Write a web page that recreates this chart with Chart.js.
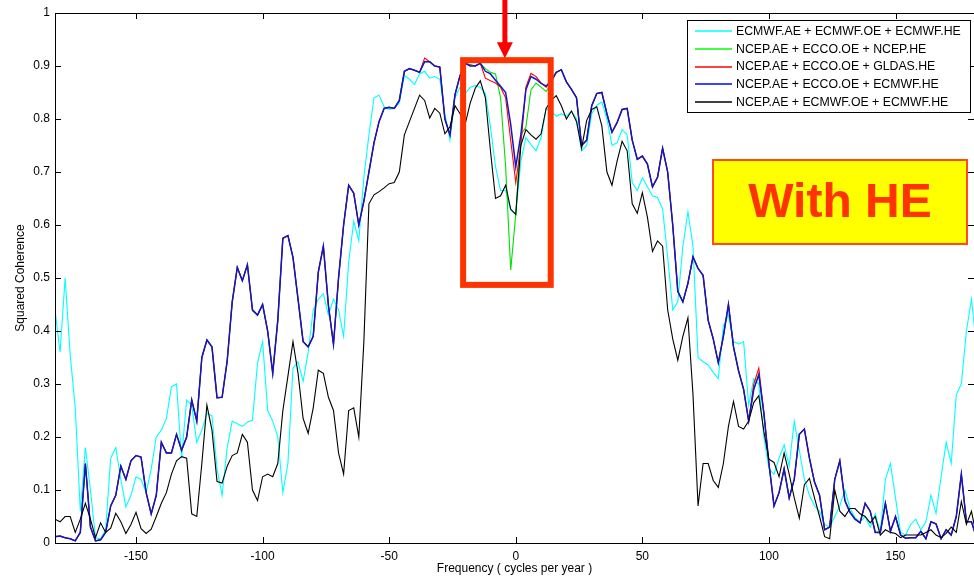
<!DOCTYPE html>
<html>
<head>
<meta charset="utf-8">
<title>Squared Coherence</title>
<script src="https://cdn.jsdelivr.net/npm/chart.js@4.4.1/dist/chart.umd.min.js"></script>
<style>
  html, body { margin: 0; padding: 0; background: #fff; }
  #wrap { width: 974px; height: 577px; }
</style>
</head>
<body>
<div id="wrap"><canvas id="coh" width="974" height="577"></canvas></div>
<script>
// frequency grid, cycles per year (-182 ... 182, step 2)
const freqStart = -182, freqStep = 2, freqCount = 183;
const freq = Array.from({ length: freqCount }, (_, i) => freqStart + i * freqStep);

const seriesLabels = [
  "ECMWF.AE + ECMWF.OE + ECMWF.HE",
  "NCEP.AE + ECCO.OE + NCEP.HE",
  "NCEP.AE + ECCO.OE + GLDAS.HE",
  "NCEP.AE + ECCO.OE + ECMWF.HE",
  "NCEP.AE + ECMWF.OE + ECMWF.HE",
];

// ECMWF.AE + ECMWF.OE + ECMWF.HE
const cohEcmwfAll = [
  0.440, 0.360, 0.500, 0.355, 0.255, 0.060, 0.180, 0.100, 0.010, 0.008,
  0.025, 0.160, 0.180, 0.120, 0.068, 0.090, 0.125, 0.120, 0.095, 0.140,
  0.200, 0.213, 0.235, 0.295, 0.300, 0.160, 0.270, 0.260, 0.190, 0.213,
  0.245, 0.240, 0.140, 0.090, 0.180, 0.230, 0.225, 0.220, 0.228, 0.232,
  0.340, 0.380, 0.250, 0.230, 0.200, 0.095, 0.150, 0.330, 0.342, 0.305,
  0.360, 0.440, 0.460, 0.470, 0.430, 0.460, 0.440, 0.390, 0.530, 0.607,
  0.570, 0.690, 0.770, 0.840, 0.845, 0.823, 0.818, 0.820, 0.830, 0.882,
  0.875, 0.865, 0.885, 0.890, 0.877, 0.880, 0.875, 0.810, 0.760, 0.840,
  0.860, 0.848, 0.860, 0.863, 0.860, 0.848, 0.785, 0.710, 0.665, 0.665,
  0.628, 0.620, 0.720, 0.765, 0.752, 0.740, 0.765, 0.820, 0.815, 0.805,
  0.810, 0.805, 0.815, 0.800, 0.740, 0.750, 0.810, 0.826, 0.832, 0.800,
  0.750, 0.755, 0.780, 0.770, 0.680, 0.665, 0.689, 0.672, 0.655, 0.652,
  0.630, 0.540, 0.440, 0.455, 0.560, 0.625, 0.560, 0.350, 0.342, 0.336,
  0.322, 0.310, 0.410, 0.430, 0.380, 0.375, 0.380, 0.260, 0.310, 0.300,
  0.200, 0.140, 0.130, 0.160, 0.185, 0.145, 0.230, 0.175, 0.120, 0.090,
  0.070, 0.060, 0.035, 0.030, 0.050, 0.070, 0.100, 0.066, 0.048, 0.040,
  0.050, 0.030, 0.055, 0.020, 0.120, 0.150, 0.085, 0.020, 0.015, 0.035,
  0.045, 0.025, 0.040, 0.090, 0.056, 0.125, 0.190, 0.150, 0.280, 0.300,
  0.400, 0.460, 0.370,
];

// NCEP.AE + ECCO.OE + NCEP.HE
const cohNcepHe = [
  0.012, 0.013, 0.010, 0.008, 0.004, 0.020, 0.150, 0.030, 0.004, 0.006,
  0.020, 0.070, 0.090, 0.145, 0.120, 0.155, 0.165, 0.162, 0.095, 0.055,
  0.090, 0.190, 0.170, 0.170, 0.205, 0.175, 0.200, 0.270, 0.230, 0.350,
  0.383, 0.370, 0.274, 0.275, 0.343, 0.455, 0.520, 0.495, 0.525, 0.438,
  0.430, 0.450, 0.400, 0.320, 0.420, 0.575, 0.580, 0.539, 0.460, 0.380,
  0.370, 0.390, 0.511, 0.560, 0.448, 0.375, 0.500, 0.600, 0.675, 0.660,
  0.600, 0.645, 0.700, 0.755, 0.795, 0.820, 0.822, 0.820, 0.835, 0.890,
  0.895, 0.892, 0.888, 0.908, 0.908, 0.900, 0.898, 0.800, 0.770, 0.846,
  0.882, 0.905, 0.903, 0.900, 0.905, 0.895, 0.888, 0.885, 0.840, 0.710,
  0.515, 0.620, 0.770, 0.785, 0.855, 0.868, 0.860, 0.852, 0.868, 0.888,
  0.893, 0.870, 0.856, 0.840, 0.750, 0.760, 0.825, 0.848, 0.850, 0.810,
  0.775, 0.793, 0.818, 0.820, 0.760, 0.724, 0.730, 0.715, 0.672, 0.690,
  0.745, 0.700, 0.600, 0.475, 0.455, 0.490, 0.540, 0.518, 0.505, 0.420,
  0.385, 0.340, 0.390, 0.450, 0.370, 0.325, 0.290, 0.230, 0.290, 0.318,
  0.245, 0.150, 0.070, 0.095, 0.140, 0.085, 0.120, 0.205, 0.215, 0.160,
  0.115, 0.090, 0.025, 0.030, 0.120, 0.155, 0.080, 0.058, 0.045, 0.038,
  0.075, 0.060, 0.020, 0.020, 0.075, 0.022, 0.050, 0.015, 0.009, 0.010,
  0.010, 0.022, 0.008, 0.040, 0.036, 0.008, 0.025, 0.015, 0.050, 0.130,
  0.040, 0.040, 0.010,
];

// NCEP.AE + ECCO.OE + GLDAS.HE
const cohGldasHe = [
  0.012, 0.013, 0.010, 0.008, 0.004, 0.020, 0.150, 0.030, 0.004, 0.006,
  0.020, 0.070, 0.090, 0.145, 0.120, 0.155, 0.165, 0.162, 0.095, 0.055,
  0.090, 0.190, 0.170, 0.170, 0.205, 0.175, 0.200, 0.270, 0.230, 0.350,
  0.383, 0.370, 0.274, 0.275, 0.343, 0.455, 0.520, 0.495, 0.525, 0.440,
  0.430, 0.450, 0.400, 0.320, 0.420, 0.575, 0.580, 0.539, 0.460, 0.380,
  0.370, 0.390, 0.511, 0.560, 0.448, 0.375, 0.500, 0.600, 0.675, 0.660,
  0.600, 0.645, 0.700, 0.755, 0.795, 0.820, 0.822, 0.820, 0.835, 0.890,
  0.895, 0.892, 0.888, 0.915, 0.908, 0.900, 0.898, 0.800, 0.770, 0.846,
  0.882, 0.905, 0.902, 0.900, 0.905, 0.877, 0.872, 0.868, 0.860, 0.840,
  0.760, 0.680, 0.750, 0.860, 0.886, 0.880, 0.868, 0.860, 0.872, 0.888,
  0.893, 0.870, 0.856, 0.840, 0.750, 0.760, 0.825, 0.848, 0.850, 0.810,
  0.775, 0.793, 0.818, 0.820, 0.760, 0.724, 0.730, 0.715, 0.672, 0.690,
  0.745, 0.700, 0.600, 0.475, 0.455, 0.490, 0.540, 0.518, 0.505, 0.420,
  0.385, 0.340, 0.390, 0.450, 0.370, 0.325, 0.290, 0.230, 0.300, 0.330,
  0.245, 0.150, 0.070, 0.095, 0.140, 0.085, 0.120, 0.205, 0.215, 0.160,
  0.115, 0.090, 0.025, 0.030, 0.120, 0.155, 0.080, 0.058, 0.045, 0.038,
  0.075, 0.060, 0.020, 0.020, 0.075, 0.022, 0.050, 0.015, 0.009, 0.010,
  0.010, 0.022, 0.008, 0.040, 0.036, 0.008, 0.025, 0.015, 0.050, 0.130,
  0.040, 0.040, 0.010,
];

// NCEP.AE + ECCO.OE + ECMWF.HE
const cohEcmwfHe = [
  0.012, 0.013, 0.010, 0.008, 0.004, 0.020, 0.150, 0.030, 0.004, 0.006,
  0.020, 0.070, 0.090, 0.145, 0.120, 0.155, 0.165, 0.162, 0.095, 0.055,
  0.090, 0.190, 0.170, 0.170, 0.205, 0.175, 0.200, 0.270, 0.230, 0.350,
  0.383, 0.370, 0.274, 0.275, 0.343, 0.455, 0.520, 0.495, 0.525, 0.440,
  0.430, 0.450, 0.400, 0.320, 0.420, 0.575, 0.580, 0.539, 0.460, 0.380,
  0.370, 0.390, 0.511, 0.560, 0.448, 0.375, 0.500, 0.600, 0.675, 0.660,
  0.600, 0.645, 0.700, 0.755, 0.795, 0.820, 0.822, 0.820, 0.835, 0.890,
  0.895, 0.892, 0.888, 0.908, 0.908, 0.900, 0.898, 0.800, 0.770, 0.846,
  0.882, 0.905, 0.900, 0.900, 0.905, 0.890, 0.885, 0.873, 0.862, 0.850,
  0.790, 0.710, 0.770, 0.855, 0.880, 0.875, 0.867, 0.862, 0.872, 0.888,
  0.893, 0.870, 0.856, 0.840, 0.750, 0.760, 0.825, 0.848, 0.850, 0.810,
  0.775, 0.793, 0.818, 0.820, 0.760, 0.724, 0.730, 0.715, 0.672, 0.690,
  0.745, 0.700, 0.600, 0.475, 0.455, 0.490, 0.540, 0.518, 0.505, 0.420,
  0.385, 0.340, 0.390, 0.450, 0.370, 0.325, 0.290, 0.230, 0.290, 0.318,
  0.245, 0.150, 0.070, 0.095, 0.140, 0.085, 0.120, 0.205, 0.215, 0.160,
  0.115, 0.090, 0.025, 0.030, 0.120, 0.155, 0.080, 0.058, 0.045, 0.038,
  0.075, 0.060, 0.020, 0.020, 0.075, 0.022, 0.050, 0.015, 0.009, 0.010,
  0.010, 0.022, 0.008, 0.040, 0.036, 0.008, 0.025, 0.015, 0.050, 0.130,
  0.040, 0.040, 0.010,
];

// NCEP.AE + ECMWF.OE + ECMWF.HE
const cohEcmwfOe = [
  0.045, 0.040, 0.050, 0.050, 0.020, 0.045, 0.075, 0.045, 0.010, 0.038,
  0.020, 0.028, 0.056, 0.040, 0.018, 0.035, 0.058, 0.027, 0.018, 0.026,
  0.050, 0.075, 0.095, 0.130, 0.155, 0.163, 0.160, 0.055, 0.050, 0.150,
  0.260, 0.213, 0.116, 0.113, 0.145, 0.165, 0.170, 0.205, 0.190, 0.100,
  0.080, 0.125, 0.130, 0.125, 0.150, 0.250, 0.315, 0.380, 0.320, 0.235,
  0.207, 0.255, 0.326, 0.320, 0.275, 0.250, 0.170, 0.130, 0.250, 0.255,
  0.200, 0.380, 0.640, 0.657, 0.663, 0.670, 0.678, 0.680, 0.700, 0.770,
  0.795, 0.820, 0.845, 0.835, 0.802, 0.820, 0.811, 0.772, 0.785, 0.825,
  0.810, 0.790, 0.830, 0.858, 0.872, 0.840, 0.740, 0.650, 0.655, 0.675,
  0.630, 0.620, 0.750, 0.780, 0.770, 0.762, 0.772, 0.820, 0.835, 0.844,
  0.825, 0.800, 0.815, 0.795, 0.745, 0.797, 0.818, 0.823, 0.787, 0.700,
  0.675, 0.720, 0.758, 0.740, 0.640, 0.622, 0.661, 0.615, 0.550, 0.570,
  0.560, 0.440, 0.385, 0.345, 0.390, 0.425, 0.280, 0.070, 0.150, 0.150,
  0.118, 0.105, 0.150, 0.220, 0.267, 0.220, 0.215, 0.230, 0.265, 0.278,
  0.210, 0.158, 0.152, 0.125, 0.170, 0.130, 0.085, 0.047, 0.110, 0.122,
  0.085, 0.050, 0.012, 0.008, 0.100, 0.060, 0.050, 0.065, 0.065, 0.055,
  0.050, 0.038, 0.050, 0.015, 0.025, 0.020, 0.018, 0.010, 0.015, 0.015,
  0.015, 0.015, 0.020, 0.025, 0.015, 0.010, 0.018, 0.030, 0.020, 0.078,
  0.035, 0.060, 0.012,
];

const FONT = "'Liberation Sans', Arial, Helvetica, sans-serif";

// highlighted band around zero frequency (data coordinates)
const zoomBand = { f0: -20.8, f1: 13.8, c0: 0.487, c1: 0.911 };
const arrowFreq = -4.3;

const toPoints = (values) => values.map((v, i) => ({ x: freq[i], y: v }));

const makeSeries = (label, values, color, width, order) => ({
  label: label,
  data: toPoints(values),
  borderColor: color,
  backgroundColor: color,
  borderWidth: width,
  pointRadius: 0,
  tension: 0,
  fill: false,
  order: order, // lower order is painted on top
});

// frame, inward ticks, legend and the callouts
const overlay = {
  id: "overlay",
  afterDraw(chart) {
    const { ctx, chartArea: a, scales } = chart;
    const x = scales.x, y = scales.y;
    ctx.save();

    // axes box (the right edge sits past the canvas)
    ctx.strokeStyle = "#000";
    ctx.lineWidth = 1;
    ctx.beginPath();
    ctx.moveTo(a.right, a.top + 0.5);
    ctx.lineTo(a.left + 0.5, a.top + 0.5);
    ctx.lineTo(a.left + 0.5, a.bottom + 0.5);
    ctx.lineTo(a.right, a.bottom + 0.5);
    ctx.stroke();

    ctx.beginPath();
    x.ticks.forEach((t) => {
      const px = Math.round(x.getPixelForValue(t.value)) + 0.5;
      ctx.moveTo(px, a.bottom); ctx.lineTo(px, a.bottom - 6);
      ctx.moveTo(px, a.top); ctx.lineTo(px, a.top + 6);
    });
    y.ticks.forEach((t) => {
      const py = Math.round(y.getPixelForValue(t.value)) + 0.5;
      ctx.moveTo(a.left, py); ctx.lineTo(a.left + 6, py);
      ctx.moveTo(a.right, py); ctx.lineTo(a.right - 6, py);
    });
    ctx.stroke();

    // red box around the zero-frequency dip
    const bx0 = x.getPixelForValue(zoomBand.f0);
    const bx1 = x.getPixelForValue(zoomBand.f1);
    const by0 = y.getPixelForValue(zoomBand.c1);
    const by1 = y.getPixelForValue(zoomBand.c0);
    ctx.strokeStyle = "#ff3300";
    ctx.lineWidth = 6;
    ctx.strokeRect(bx0, by0, bx1 - bx0, by1 - by0);

    // arrow pointing into the box
    const ax = x.getPixelForValue(arrowFreq);
    const tip = by0 - 2;
    ctx.fillStyle = "#ff0000";
    ctx.fillRect(ax - 2.5, 0, 5, tip - 14);
    ctx.beginPath();
    ctx.moveTo(ax - 8, tip - 16);
    ctx.lineTo(ax + 8, tip - 16);
    ctx.lineTo(ax, tip);
    ctx.closePath();
    ctx.fill();

    // "With HE" label
    ctx.fillStyle = "#ffff00";
    ctx.fillRect(713, 160, 254, 84);
    ctx.strokeStyle = "#ff4a1a";
    ctx.lineWidth = 2;
    ctx.strokeRect(713, 160, 254, 84);
    ctx.fillStyle = "#ff3300";
    ctx.font = "bold 48px " + FONT;
    ctx.textAlign = "center";
    ctx.textBaseline = "middle";
    ctx.fillText("With HE", 840, 204);

    // legend
    const lx = 687.5, ly = 20.5, lw = 283, lh = 92;
    ctx.fillStyle = "#fff";
    ctx.fillRect(lx, ly, lw, lh);
    ctx.strokeStyle = "#000";
    ctx.lineWidth = 1;
    ctx.strokeRect(lx, ly, lw, lh);
    ctx.font = "12.3px " + FONT;
    ctx.textAlign = "left";
    ctx.textBaseline = "middle";
    chart.data.datasets.forEach((ds, i) => {
      const rowY = 31 + i * 17.8;
      ctx.strokeStyle = seriesKeyColors[i];
      ctx.lineWidth = 1.3;
      ctx.beginPath();
      ctx.moveTo(695, Math.round(rowY));
      ctx.lineTo(732, Math.round(rowY));
      ctx.stroke();
      ctx.fillStyle = "#000";
      ctx.fillText(ds.label, 736, rowY + 0.5);
    });

    ctx.restore();
  },
};

const seriesColors = ["#00ffff", "#00e000", "#ff0000", "#1414c8", "#000000"];
const seriesKeyColors = ["#00ffff", "#00ff00", "#ff0000", "#0000ff", "#000000"];

// tick labels in the 0, 0.1, ..., 1 style
const fmtCoh = (v) => String(Math.round(v * 10) / 10);

new Chart(document.getElementById("coh").getContext("2d"), {
  type: "line",
  data: {
    datasets: [
      makeSeries(seriesLabels[0], cohEcmwfAll, seriesColors[0], 1.1, 5),
      makeSeries(seriesLabels[1], cohNcepHe, seriesColors[1], 1.1, 4),
      makeSeries(seriesLabels[2], cohGldasHe, seriesColors[2], 1.1, 3),
      makeSeries(seriesLabels[3], cohEcmwfHe, seriesColors[3], 1.5, 2),
      makeSeries(seriesLabels[4], cohEcmwfOe, seriesColors[4], 1.1, 1),
    ],
  },
  options: {
    responsive: false,
    animation: false,
    layout: { padding: { top: 13, right: 0, bottom: 0, left: 0 } },
    plugins: {
      legend: { display: false },
      tooltip: { enabled: false },
    },
    scales: {
      x: {
        type: "linear",
        min: -182,
        max: 181,
        grid: { display: false, drawTicks: false },
        border: { display: false },
        ticks: {
          stepSize: 50,
          includeBounds: false,
          maxRotation: 0,
          padding: 6,
          color: "#000",
          font: { family: FONT, size: 12 },
        },
        title: {
          display: true,
          text: "Frequency ( cycles per year )",
          color: "#000",
          font: { family: FONT, size: 12 },
          padding: { top: 0, bottom: 1 },
        },
        afterFit: (scale) => { scale.height = 34; },
      },
      y: {
        min: 0,
        max: 1,
        grid: { display: false, drawTicks: false },
        border: { display: false },
        ticks: {
          stepSize: 0.1,
          padding: 5,
          color: "#000",
          font: { family: FONT, size: 12 },
          callback: fmtCoh,
        },
        title: {
          display: true,
          text: "Squared Coherence",
          color: "#000",
          font: { family: FONT, size: 12 },
          padding: { top: 13, bottom: 0 },
        },
        afterFit: (scale) => { scale.width = 55; },
      },
    },
  },
  plugins: [overlay],
});
</script>
</body>
</html>
